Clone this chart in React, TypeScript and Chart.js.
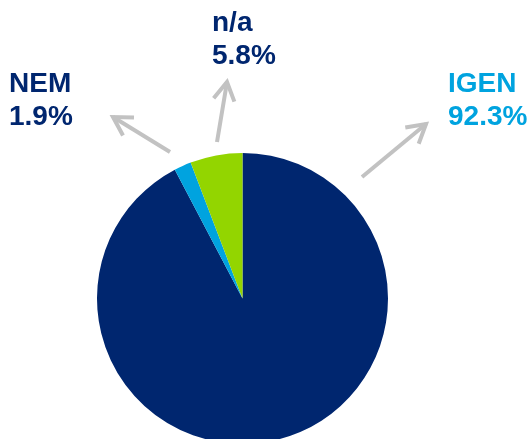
import React, { useEffect, useRef } from "react";
import { Chart, registerables } from "chart.js";

Chart.register(...registerables);

const categories = ["IGEN", "NEM", "n/a"];
const shares = [92.3, 1.9, 5.8];
const sliceColors = ["#00266F", "#00A3DF", "#93D500"];
const labelColors = ["#00A3DF", "#00266F", "#00266F"];

// annotation layout (label anchor and arrow endpoints), in canvas pixels
const annotations = [
  { x: 448, y: 92, tail: [362, 177], tip: [426, 124] },
  { x: 9, y: 92, tail: [170, 152], tip: [113, 117] },
  { x: 212, y: 31, tail: [217, 142], tip: [227, 82] },
];

const calloutPlugin = {
  id: "callouts",
  afterDraw(chart: any) {
    const ctx = chart.ctx as CanvasRenderingContext2D;
    ctx.save();
    // arrows
    ctx.strokeStyle = "#C2C2C2";
    ctx.lineWidth = 4;
    ctx.lineCap = "butt";
    ctx.lineJoin = "miter";
    annotations.forEach((a) => {
      const [x0, y0] = a.tail;
      const [x1, y1] = a.tip;
      const ang = Math.atan2(y1 - y0, x1 - x0);
      const len = 21;
      const spread = Math.PI / 6;
      ctx.beginPath();
      ctx.moveTo(x0, y0);
      ctx.lineTo(x1, y1);
      ctx.stroke();
      ctx.beginPath();
      ctx.moveTo(x1 - len * Math.cos(ang - spread), y1 - len * Math.sin(ang - spread));
      ctx.lineTo(x1, y1);
      ctx.lineTo(x1 - len * Math.cos(ang + spread), y1 - len * Math.sin(ang + spread));
      ctx.stroke();
    });
    // labels
    ctx.font = "bold 28px 'Liberation Sans', Arial, sans-serif";
    ctx.textBaseline = "alphabetic";
    ctx.textAlign = "left";
    annotations.forEach((a, i) => {
      ctx.fillStyle = labelColors[i];
      ctx.fillText(categories[i], a.x, a.y);
      ctx.fillText(shares[i].toFixed(1) + "%", a.x, a.y + 33);
    });
    ctx.restore();
  },
};

export default function App() {
  const ref = useRef<HTMLCanvasElement | null>(null);
  useEffect(() => {
    if (!ref.current) return;
    const chart = new Chart(ref.current, {
      type: "pie",
      data: {
        labels: categories,
        datasets: [
          {
            data: shares,
            backgroundColor: sliceColors,
            borderWidth: 0,
          },
        ],
      },
      options: {
        responsive: false,
        animation: false,
        layout: { padding: { left: 97, right: 143, top: 153, bottom: 156 } },
        plugins: {
          legend: { display: false },
          tooltip: { enabled: false },
        },
      },
      plugins: [calloutPlugin],
    });
    return () => chart.destroy();
  }, []);
  return (
    <div
      style={{
        position: "fixed",
        left: 0,
        top: 0,
        width: 531,
        height: 439,
        overflow: "hidden",
        background: "#fff",
      }}
    >
      <canvas ref={ref} width={531} height={600} style={{ display: "block" }} />
    </div>
  );
}
